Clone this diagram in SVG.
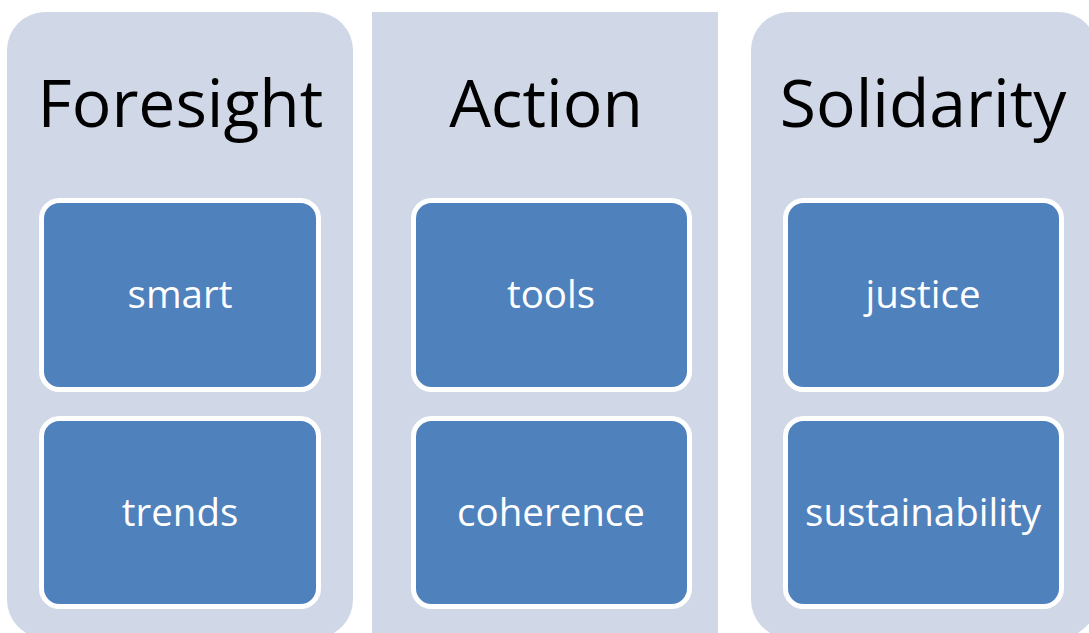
<svg xmlns="http://www.w3.org/2000/svg" width="1089" height="633" viewBox="0 0 1089 633">
<style>
.panel{fill:#D0D8E8}
.box{fill:#4F81BD;stroke:#FFFFFF;stroke-width:5}
.title{font-family:"Open Sans","Liberation Sans",sans-serif;font-size:66px;fill:#000000;text-anchor:middle}
.label{font-family:"Open Sans","Liberation Sans",sans-serif;font-size:38.5px;fill:#FFFFFF;text-anchor:middle}
</style>
<rect width="1089" height="633" fill="#FFFFFF"/>
<g id="panel-foresight">
<rect class="panel" x="7" y="12" width="346" height="626" rx="38"/>
<text class="title" x="180.5" y="127">Foresight</text>
</g>
<g id="panel-action">
<rect class="panel" x="372" y="12" width="346" height="626"/>
<text class="title" x="546" y="127">Action</text>
</g>
<g id="panel-solidarity">
<rect class="panel" x="751" y="12" width="346" height="626" rx="38"/>
<text class="title" x="923" y="127">Solidarity</text>
</g>
<g id="node-smart"><rect class="box" x="41.5" y="200.5" width="277" height="189" rx="18"/><text class="label" x="180" y="308">smart</text></g>
<g id="node-trends"><rect class="box" x="41.5" y="418.5" width="277" height="188" rx="18"/><text class="label" x="180" y="526">trends</text></g>
<g id="node-tools"><rect class="box" x="413.5" y="200.5" width="276" height="189" rx="18"/><text class="label" x="551" y="308">tools</text></g>
<g id="node-coherence"><rect class="box" x="413.5" y="418.5" width="276" height="188" rx="18"/><text class="label" x="551" y="526">coherence</text></g>
<g id="node-justice"><rect class="box" x="785.5" y="200.5" width="276" height="189" rx="18"/><text class="label" x="923" y="308">justice</text></g>
<g id="node-sustainability"><rect class="box" x="785.5" y="418.5" width="276" height="188" rx="18"/><text class="label" x="923" y="526">sustainability</text></g>
<g id="connectors"></g>
</svg>
